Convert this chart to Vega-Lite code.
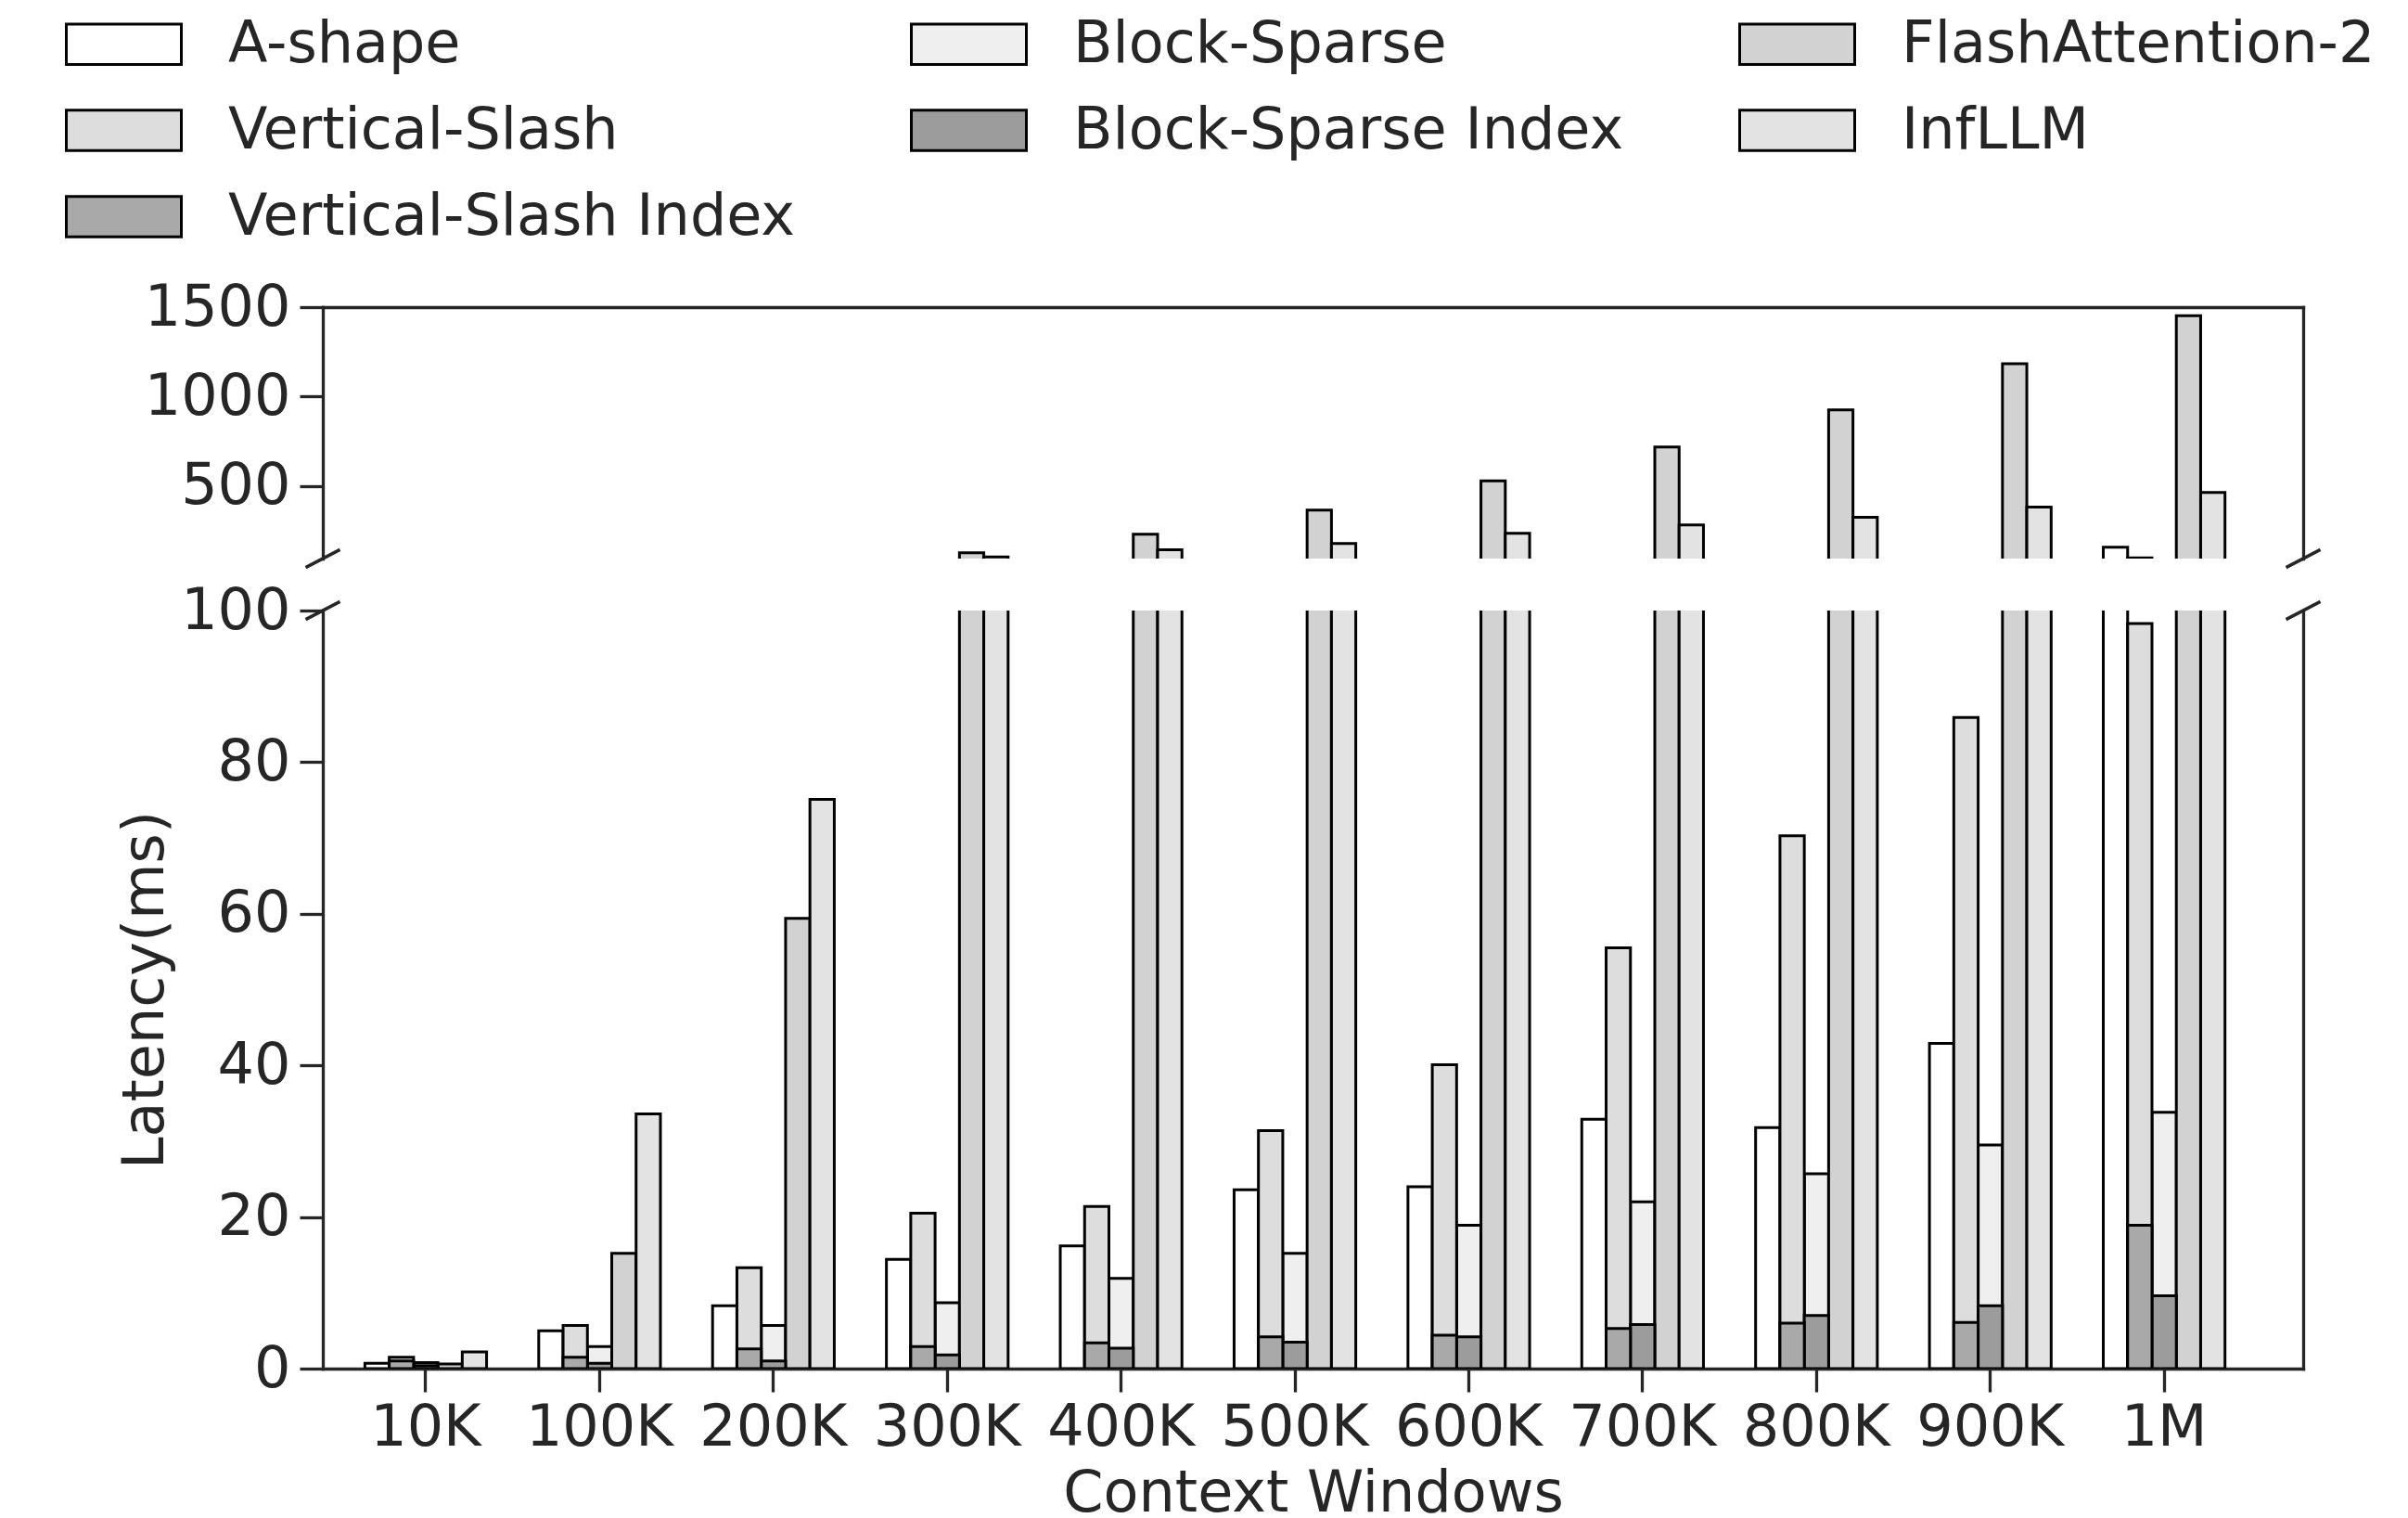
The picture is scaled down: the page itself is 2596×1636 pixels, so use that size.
{
  "$schema": "https://vega.github.io/schema/vega-lite/v6.json",
  "padding": {"left": 101, "top": 15, "right": 20, "bottom": 5},
  "bounds": "flush",
  "spacing": 56,
  "datasets": {
    "latency": [
      {"ctx": "10K", "method": "A-shape", "latency": 0.7},
      {"ctx": "10K", "method": "Block-Sparse", "latency": 0.8},
      {"ctx": "10K", "method": "FlashAttention-2", "latency": 0.6},
      {"ctx": "10K", "method": "Vertical-Slash", "latency": 1.5},
      {"ctx": "10K", "method": "Block-Sparse Index", "latency": 0.4},
      {"ctx": "10K", "method": "InfLLM", "latency": 2.2},
      {"ctx": "10K", "method": "Vertical-Slash Index", "latency": 1.0},
      {"ctx": "100K", "method": "A-shape", "latency": 5.0},
      {"ctx": "100K", "method": "Block-Sparse", "latency": 2.9},
      {"ctx": "100K", "method": "FlashAttention-2", "latency": 15.2},
      {"ctx": "100K", "method": "Vertical-Slash", "latency": 5.7},
      {"ctx": "100K", "method": "Block-Sparse Index", "latency": 0.7},
      {"ctx": "100K", "method": "InfLLM", "latency": 33.6},
      {"ctx": "100K", "method": "Vertical-Slash Index", "latency": 1.5},
      {"ctx": "200K", "method": "A-shape", "latency": 8.3},
      {"ctx": "200K", "method": "Block-Sparse", "latency": 5.7},
      {"ctx": "200K", "method": "FlashAttention-2", "latency": 59.4},
      {"ctx": "200K", "method": "Vertical-Slash", "latency": 13.3},
      {"ctx": "200K", "method": "Block-Sparse Index", "latency": 1.0},
      {"ctx": "200K", "method": "InfLLM", "latency": 75.1},
      {"ctx": "200K", "method": "Vertical-Slash Index", "latency": 2.6},
      {"ctx": "300K", "method": "A-shape", "latency": 14.4},
      {"ctx": "300K", "method": "Block-Sparse", "latency": 8.7},
      {"ctx": "300K", "method": "FlashAttention-2", "latency": 126},
      {"ctx": "300K", "method": "Vertical-Slash", "latency": 20.5},
      {"ctx": "300K", "method": "Block-Sparse Index", "latency": 1.8},
      {"ctx": "300K", "method": "InfLLM", "latency": 103},
      {"ctx": "300K", "method": "Vertical-Slash Index", "latency": 2.9},
      {"ctx": "400K", "method": "A-shape", "latency": 16.2},
      {"ctx": "400K", "method": "Block-Sparse", "latency": 11.9},
      {"ctx": "400K", "method": "FlashAttention-2", "latency": 230},
      {"ctx": "400K", "method": "Vertical-Slash", "latency": 21.4},
      {"ctx": "400K", "method": "Block-Sparse Index", "latency": 2.7},
      {"ctx": "400K", "method": "InfLLM", "latency": 143},
      {"ctx": "400K", "method": "Vertical-Slash Index", "latency": 3.4},
      {"ctx": "500K", "method": "A-shape", "latency": 23.6},
      {"ctx": "500K", "method": "Block-Sparse", "latency": 15.2},
      {"ctx": "500K", "method": "FlashAttention-2", "latency": 365},
      {"ctx": "500K", "method": "Vertical-Slash", "latency": 31.4},
      {"ctx": "500K", "method": "Block-Sparse Index", "latency": 3.5},
      {"ctx": "500K", "method": "InfLLM", "latency": 178},
      {"ctx": "500K", "method": "Vertical-Slash Index", "latency": 4.2},
      {"ctx": "600K", "method": "A-shape", "latency": 24.0},
      {"ctx": "600K", "method": "Block-Sparse", "latency": 18.9},
      {"ctx": "600K", "method": "FlashAttention-2", "latency": 528},
      {"ctx": "600K", "method": "Vertical-Slash", "latency": 40.1},
      {"ctx": "600K", "method": "Block-Sparse Index", "latency": 4.2},
      {"ctx": "600K", "method": "InfLLM", "latency": 235},
      {"ctx": "600K", "method": "Vertical-Slash Index", "latency": 4.4},
      {"ctx": "700K", "method": "A-shape", "latency": 32.9},
      {"ctx": "700K", "method": "Block-Sparse", "latency": 22.0},
      {"ctx": "700K", "method": "FlashAttention-2", "latency": 718},
      {"ctx": "700K", "method": "Vertical-Slash", "latency": 55.5},
      {"ctx": "700K", "method": "Block-Sparse Index", "latency": 5.8},
      {"ctx": "700K", "method": "InfLLM", "latency": 282},
      {"ctx": "700K", "method": "Vertical-Slash Index", "latency": 5.3},
      {"ctx": "800K", "method": "A-shape", "latency": 31.8},
      {"ctx": "800K", "method": "Block-Sparse", "latency": 25.7},
      {"ctx": "800K", "method": "FlashAttention-2", "latency": 926},
      {"ctx": "800K", "method": "Vertical-Slash", "latency": 70.3},
      {"ctx": "800K", "method": "Block-Sparse Index", "latency": 7.0},
      {"ctx": "800K", "method": "InfLLM", "latency": 325},
      {"ctx": "800K", "method": "Vertical-Slash Index", "latency": 6.0},
      {"ctx": "900K", "method": "A-shape", "latency": 42.9},
      {"ctx": "900K", "method": "Block-Sparse", "latency": 29.5},
      {"ctx": "900K", "method": "FlashAttention-2", "latency": 1183},
      {"ctx": "900K", "method": "Vertical-Slash", "latency": 85.9},
      {"ctx": "900K", "method": "Block-Sparse Index", "latency": 8.3},
      {"ctx": "900K", "method": "InfLLM", "latency": 382},
      {"ctx": "900K", "method": "Vertical-Slash Index", "latency": 6.1},
      {"ctx": "1M", "method": "A-shape", "latency": 158},
      {"ctx": "1M", "method": "Block-Sparse", "latency": 33.8},
      {"ctx": "1M", "method": "FlashAttention-2", "latency": 1452},
      {"ctx": "1M", "method": "Vertical-Slash", "latency": 98.3},
      {"ctx": "1M", "method": "Block-Sparse Index", "latency": 9.6},
      {"ctx": "1M", "method": "InfLLM", "latency": 464},
      {"ctx": "1M", "method": "Vertical-Slash Index", "latency": 18.9}
    ],
    "breaks": [{"side": 0}, {"side": 1}]
  },
  "vconcat": [
    {
      "width": 2135,
      "height": 271,
      "layer": [
        {
          "data": {"name": "latency"},
          "transform": [
            {"filter": "indexof(datum.method, 'Index') < 0"},
            {"calculate": "replace(datum.method, ' Index', '')", "as": "slot"}
          ],
          "mark": {"type": "bar", "clip": true, "stroke": "#000000", "strokeWidth": 3},
          "encoding": {
            "x": {
              "field": "ctx", "type": "nominal",
              "scale": {"domain": ["10K", "100K", "200K", "300K", "400K", "500K", "600K", "700K", "800K", "900K", "1M"], "paddingInner": 0.3, "paddingOuter": 0.346, "align": 0.35},
              "axis": {"orient": "top", "labels": false, "ticks": false, "title": null, "domain": true}
            },
            "xOffset": {
              "field": "slot", "type": "nominal",
              "scale": {"domain": ["A-shape", "Vertical-Slash", "Block-Sparse", "FlashAttention-2", "InfLLM"], "paddingInner": 0, "paddingOuter": 0}
            },
            "y": {
              "field": "latency", "type": "quantitative",
              "scale": {"domain": [94, 1500], "nice": false, "zero": false},
              "axis": {"values": [500, 1000, 1500], "format": "d", "title": null}
            },
            "fill": {
              "field": "method", "type": "nominal", "title": null,
              "scale": {
                "domain": ["A-shape", "Block-Sparse", "FlashAttention-2", "Vertical-Slash", "Block-Sparse Index", "InfLLM", "Vertical-Slash Index"],
                "range": ["#ffffff", "#efefef", "#d2d2d2", "#dddddd", "#9c9c9c", "#e3e3e3", "#a9a9a9"]
              }
            }
          }
        },
        {
          "data": {"name": "latency"},
          "transform": [
            {"filter": "indexof(datum.method, 'Index') >= 0"},
            {"calculate": "replace(datum.method, ' Index', '')", "as": "slot"}
          ],
          "mark": {"type": "bar", "clip": true, "stroke": "#000000", "strokeWidth": 3},
          "encoding": {
            "x": {
              "field": "ctx", "type": "nominal",
              "scale": {"domain": ["10K", "100K", "200K", "300K", "400K", "500K", "600K", "700K", "800K", "900K", "1M"], "paddingInner": 0.3, "paddingOuter": 0.346, "align": 0.35},
              "axis": null
            },
            "xOffset": {
              "field": "slot", "type": "nominal",
              "scale": {"domain": ["A-shape", "Vertical-Slash", "Block-Sparse", "FlashAttention-2", "InfLLM"], "paddingInner": 0, "paddingOuter": 0}
            },
            "y": {
              "field": "latency", "type": "quantitative",
              "axis": {"orient": "right", "labels": false, "ticks": false, "title": null, "domain": true}
            },
            "fill": {
              "field": "method", "type": "nominal", "title": null,
              "scale": {
                "domain": ["A-shape", "Block-Sparse", "FlashAttention-2", "Vertical-Slash", "Block-Sparse Index", "InfLLM", "Vertical-Slash Index"],
                "range": ["#ffffff", "#efefef", "#d2d2d2", "#dddddd", "#9c9c9c", "#e3e3e3", "#a9a9a9"]
              }
            }
          }
        },
        {
          "data": {"name": "breaks"},
          "mark": {"type": "point", "shape": "M-1,0.52L1,-0.52", "filled": false, "stroke": "#262626", "strokeWidth": 3.5, "size": 1369, "opacity": 1, "clip": false},
          "encoding": {
            "x": {"field": "side", "type": "quantitative", "scale": {"domain": [0, 1], "nice": false, "zero": false}, "axis": null},
            "y": {"datum": 94, "type": "quantitative", "axis": null}
          }
        }
      ],
      "resolve": {"scale": {"x": "independent"}, "axis": {"y": "independent"}}
    },
    {
      "width": 2135,
      "height": 817,
      "layer": [
        {
          "data": {"name": "latency"},
          "transform": [
            {"filter": "indexof(datum.method, 'Index') < 0"},
            {"calculate": "replace(datum.method, ' Index', '')", "as": "slot"}
          ],
          "mark": {"type": "bar", "clip": true, "stroke": "#000000", "strokeWidth": 3},
          "encoding": {
            "x": {
              "field": "ctx", "type": "nominal",
              "scale": {"domain": ["10K", "100K", "200K", "300K", "400K", "500K", "600K", "700K", "800K", "900K", "1M"], "paddingInner": 0.3, "paddingOuter": 0.346, "align": 0.35},
              "axis": {"title": "Context Windows"}
            },
            "xOffset": {
              "field": "slot", "type": "nominal",
              "scale": {"domain": ["A-shape", "Vertical-Slash", "Block-Sparse", "FlashAttention-2", "InfLLM"], "paddingInner": 0, "paddingOuter": 0}
            },
            "y": {
              "field": "latency", "type": "quantitative",
              "scale": {"domain": [0, 100], "nice": false},
              "axis": {"values": [0, 20, 40, 60, 80, 100], "title": "Latency(ms)"}
            },
            "fill": {
              "field": "method", "type": "nominal", "title": null,
              "scale": {
                "domain": ["A-shape", "Block-Sparse", "FlashAttention-2", "Vertical-Slash", "Block-Sparse Index", "InfLLM", "Vertical-Slash Index"],
                "range": ["#ffffff", "#efefef", "#d2d2d2", "#dddddd", "#9c9c9c", "#e3e3e3", "#a9a9a9"]
              }
            }
          }
        },
        {
          "data": {"name": "latency"},
          "transform": [
            {"filter": "indexof(datum.method, 'Index') >= 0"},
            {"calculate": "replace(datum.method, ' Index', '')", "as": "slot"}
          ],
          "mark": {"type": "bar", "clip": true, "stroke": "#000000", "strokeWidth": 3},
          "encoding": {
            "x": {
              "field": "ctx", "type": "nominal",
              "scale": {"domain": ["10K", "100K", "200K", "300K", "400K", "500K", "600K", "700K", "800K", "900K", "1M"], "paddingInner": 0.3, "paddingOuter": 0.346, "align": 0.35},
              "axis": null
            },
            "xOffset": {
              "field": "slot", "type": "nominal",
              "scale": {"domain": ["A-shape", "Vertical-Slash", "Block-Sparse", "FlashAttention-2", "InfLLM"], "paddingInner": 0, "paddingOuter": 0}
            },
            "y": {
              "field": "latency", "type": "quantitative",
              "axis": {"orient": "right", "labels": false, "ticks": false, "title": null, "domain": true}
            },
            "fill": {
              "field": "method", "type": "nominal", "title": null,
              "scale": {
                "domain": ["A-shape", "Block-Sparse", "FlashAttention-2", "Vertical-Slash", "Block-Sparse Index", "InfLLM", "Vertical-Slash Index"],
                "range": ["#ffffff", "#efefef", "#d2d2d2", "#dddddd", "#9c9c9c", "#e3e3e3", "#a9a9a9"]
              }
            }
          }
        },
        {
          "data": {"name": "breaks"},
          "mark": {"type": "point", "shape": "M-1,0.52L1,-0.52", "filled": false, "stroke": "#262626", "strokeWidth": 3.5, "size": 1369, "opacity": 1, "clip": false},
          "encoding": {
            "x": {"field": "side", "type": "quantitative", "scale": {"domain": [0, 1], "nice": false, "zero": false}, "axis": null},
            "y": {"datum": 100, "type": "quantitative", "axis": null}
          }
        }
      ],
      "resolve": {"scale": {"x": "independent"}, "axis": {"y": "independent"}}
    }
  ],
  "resolve": {"scale": {"y": "independent", "fill": "shared"}},
  "config": {
    "font": "DejaVu Sans",
    "view": {"stroke": null},
    "axis": {
      "grid": false,
      "domainColor": "#262626",
      "domainWidth": 3.3,
      "domainCap": "square",
      "tickColor": "#262626",
      "tickWidth": 3.3,
      "tickSize": 25,
      "labelFont": "DejaVu Sans",
      "labelFontSize": 62,
      "labelColor": "#262626",
      "labelPadding": 10,
      "titleFont": "DejaVu Sans",
      "titleFontSize": 62,
      "titleFontWeight": "normal",
      "titleColor": "#262626"
    },
    "axisX": {"labelAngle": 0, "labelPadding": 8, "titlePadding": 10},
    "axisY": {"titlePadding": 6},
    "legend": {
      "orient": "none",
      "direction": "horizontal",
      "legendX": -247,
      "legendY": -316,
      "columns": 3,
      "columnPadding": 118,
      "rowPadding": 29,
      "padding": 0,
      "labelFont": "DejaVu Sans",
      "labelFontSize": 62,
      "labelColor": "#262626",
      "labelOffset": 80,
      "labelLimit": 0,
      "symbolType": "M-2,-0.7H2V0.7H-2Z",
      "symbolSize": 3844,
      "symbolStrokeColor": "#000000",
      "symbolStrokeWidth": 3,
      "symbolOpacity": 1
    }
  }
}
